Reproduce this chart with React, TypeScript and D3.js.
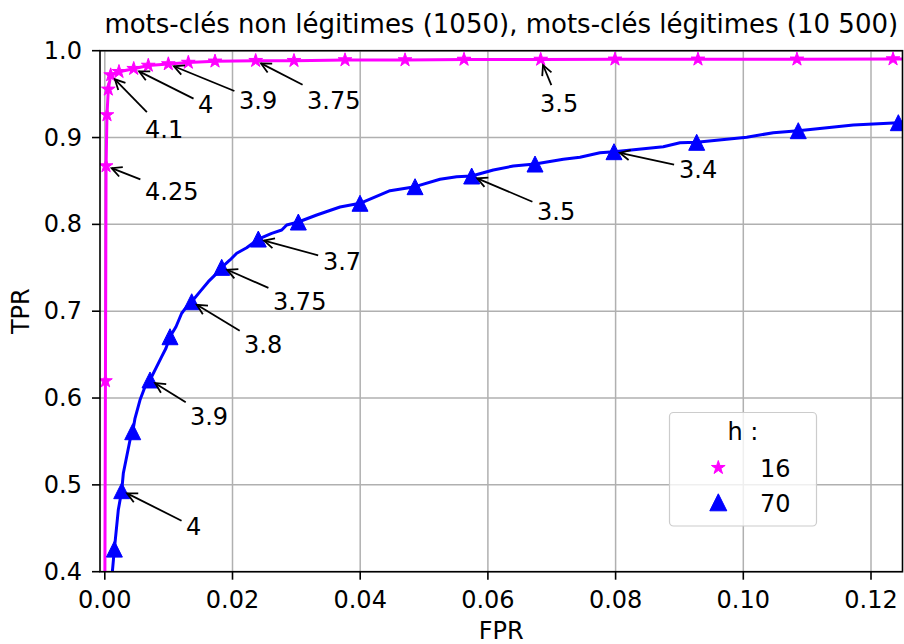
import React from 'react';
import * as d3 from 'd3';

const W = 904;
const H = 644;

const chartTitle = 'mots-clés non légitimes (1050), mots-clés légitimes (10 500)';
const xLabel = 'FPR';
const yLabel = 'TPR';
const legendTitle = 'h :';
const seriesNames = ['16', '70'];
const seriesColors = ['#ff00ff', '#0000ff'];

const xTicks = [0, 0.02, 0.04, 0.06, 0.08, 0.1, 0.12];
const xTickLabels = ['0.00', '0.02', '0.04', '0.06', '0.08', '0.10', '0.12'];
const yTicks = [0.4, 0.5, 0.6, 0.7, 0.8, 0.9, 1.0];
const yTickLabels = ['0.4', '0.5', '0.6', '0.7', '0.8', '0.9', '1.0'];

// h = 16 (magenta, stars)
const h16MarkFPR = [0.0001, 0.0002, 0.00034, 0.00055, 0.00092, 0.00222, 0.00453, 0.00681, 0.00995, 0.01308, 0.01726, 0.02363, 0.02963, 0.03762, 0.04702, 0.05626, 0.06827, 0.0799, 0.0929, 0.1084, 0.12345];
const h16MarkTPR = [0.6196, 0.8672, 0.926, 0.9555, 0.972, 0.9758, 0.9793, 0.983, 0.9847, 0.9864, 0.9878, 0.9885, 0.9885, 0.9893, 0.9893, 0.9899, 0.9899, 0.9901, 0.9901, 0.9901, 0.9904];
const h16LineFPR = [0.0, 0.0001, 0.0002, 0.00034, 0.00055, 0.00092, 0.00222, 0.00453, 0.00681, 0.00995, 0.01308, 0.01726, 0.02363, 0.02963, 0.03762, 0.04702, 0.05626, 0.06827, 0.0799, 0.0929, 0.1084, 0.12345, 0.1262];
const h16LineTPR = [0.35, 0.6196, 0.8672, 0.926, 0.9555, 0.972, 0.9758, 0.9793, 0.983, 0.9847, 0.9864, 0.9878, 0.9885, 0.9885, 0.9893, 0.9893, 0.9899, 0.9899, 0.9901, 0.9901, 0.9901, 0.9904, 0.9905];

// h = 70 (blue, triangles)
const h70MarkFPR = [0.0015, 0.00265, 0.00437, 0.00708, 0.01021, 0.01361, 0.01831, 0.02404, 0.03031, 0.03997, 0.04859, 0.05746, 0.06738, 0.07975, 0.0927, 0.10861, 0.12428];
const h70MarkTPR = [0.426, 0.4933, 0.5612, 0.6208, 0.6706, 0.7109, 0.7505, 0.7831, 0.8027, 0.8243, 0.8434, 0.8557, 0.8695, 0.8837, 0.8945, 0.9079, 0.9171];
const h70LineFPR = [0.001, 0.0015, 0.00211, 0.00265, 0.0029, 0.00332, 0.00395, 0.00437, 0.00473, 0.00551, 0.0063, 0.00708, 0.00813, 0.00891, 0.00958, 0.01021, 0.01115, 0.01204, 0.01283, 0.01361, 0.01491, 0.01621, 0.01753, 0.01831, 0.01961, 0.02066, 0.02222, 0.02404, 0.02614, 0.02771, 0.02849, 0.03031, 0.03319, 0.03684, 0.03997, 0.04467, 0.04859, 0.0525, 0.05511, 0.05746, 0.06085, 0.06398, 0.06738, 0.07181, 0.07442, 0.07755, 0.07975, 0.08747, 0.09008, 0.0927, 0.10053, 0.1047, 0.10861, 0.11723, 0.12036, 0.12428, 0.1261];
const h70LineTPR = [0.385, 0.426, 0.471, 0.4933, 0.5133, 0.5286, 0.5517, 0.5612, 0.5766, 0.5977, 0.613, 0.6208, 0.6361, 0.6476, 0.6573, 0.6706, 0.6821, 0.6976, 0.7052, 0.7109, 0.7225, 0.734, 0.7436, 0.7505, 0.759, 0.7667, 0.7731, 0.7831, 0.7897, 0.7935, 0.7993, 0.8027, 0.8108, 0.82, 0.8243, 0.8388, 0.8434, 0.8519, 0.8549, 0.8557, 0.8626, 0.8672, 0.8695, 0.8749, 0.8772, 0.8825, 0.8837, 0.8894, 0.894, 0.8945, 0.9003, 0.9056, 0.9079, 0.9144, 0.9156, 0.9171, 0.919];

// annotations (threshold labels), text anchored at (FPR, TPR) left/baseline
const h16AnnLabels = ['4.25', '4.1', '4', '3.9', '3.75', '3.5'];
const h16AnnIndex = [1, 4, 6, 8, 11, 16];
const h16AnnTextFPR = [0.0063, 0.0063, 0.0146, 0.02102, 0.03167, 0.06816];
const h16AnnTextTPR = [0.8281, 0.8995, 0.9283, 0.9329, 0.9329, 0.9294];

const h70AnnLabels = ['4', '3.9', '3.8', '3.75', '3.7', '3.5', '3.4'];
const h70AnnIndex = [1, 3, 5, 6, 7, 11, 13];
const h70AnnTextFPR = [0.01272, 0.01334, 0.0218, 0.02634, 0.03417, 0.06769, 0.08993];
const h70AnnTextTPR = [0.4422, 0.5689, 0.6518, 0.7014, 0.7474, 0.805, 0.8534];

const FONT = '"DejaVu Sans", sans-serif';
const FS = 24;
const TITLE_FS = 26;

let _ctx: CanvasRenderingContext2D | null = null;
function textWidth(s: string, fs: number) {
  if (!_ctx) _ctx = document.createElement('canvas').getContext('2d');
  if (!_ctx) return s.length * fs * 0.6;
  _ctx.font = `${fs}px "DejaVu Sans"`;
  return _ctx.measureText(s).width;
}

function starPath(cx: number, cy: number, R: number) {
  const r = R * 0.381966;
  const pts: string[] = [];
  for (let i = 0; i < 10; i++) {
    const a = -Math.PI / 2 + (i * Math.PI) / 5;
    const rr = i % 2 === 0 ? R : r;
    pts.push(`${cx + rr * Math.cos(a)},${cy + rr * Math.sin(a)}`);
  }
  return 'M' + pts.join('L') + 'Z';
}

function triPath(cx: number, cy: number, s: number) {
  return `M${cx},${cy - s}L${cx - s},${cy + s}L${cx + s},${cy + s}Z`;
}

function arrowGeom(tx: number, ty: number, label: string, hx: number, hy: number) {
  const w = textWidth(label, FS);
  const x0 = tx, x1 = tx + w, y0 = ty - 0.93 * FS, y1 = ty + 0.24 * FS;
  const cx = (x0 + x1) / 2, cy = (y0 + y1) / 2;
  const dx = hx - cx, dy = hy - cy;
  let t = Infinity;
  if (dx < 0) t = Math.min(t, (x0 - cx) / dx);
  if (dx > 0) t = Math.min(t, (x1 - cx) / dx);
  if (dy < 0) t = Math.min(t, (y0 - cy) / dy);
  if (dy > 0) t = Math.min(t, (y1 - cy) / dy);
  const len = Math.hypot(dx, dy);
  const ux = dx / len, uy = dy / len;
  const shrinkA = 5, shrinkB = 6;
  const sx = cx + dx * t + ux * shrinkA, sy = cy + dy * t + uy * shrinkA;
  const ex = hx - ux * shrinkB, ey = hy - uy * shrinkB;
  const L = 10, hw = 5;
  const bx = ex - ux * L, by = ey - uy * L;
  const nx = -uy, ny = ux;
  const line = `M${sx},${sy}L${ex},${ey}`;
  const head = `M${bx + nx * hw},${by + ny * hw}L${ex},${ey}L${bx - nx * hw},${by - ny * hw}`;
  return { line, head };
}

export default function App() {
  const m = { l: 100, r: 902.5, t: 50.7, b: 571.7 };
  const x = d3.scaleLinear().domain([-0.000752, 0.124933]).range([m.l, m.r]);
  const y = d3.scaleLinear().domain([0.4, 1.0]).range([m.b, m.t]);

  const lineGen = d3.line<[number, number]>().x((d) => x(d[0])).y((d) => y(d[1]));
  const h16Line = lineGen(h16LineFPR.map((v, i) => [v, h16LineTPR[i]] as [number, number])) || '';
  const h70Line = lineGen(h70LineFPR.map((v, i) => [v, h70LineTPR[i]] as [number, number])) || '';

  const annots: { label: string; tx: number; ty: number; hx: number; hy: number }[] = [];
  h16AnnLabels.forEach((lab, i) => {
    const k = h16AnnIndex[i];
    annots.push({ label: lab, tx: x(h16AnnTextFPR[i]), ty: y(h16AnnTextTPR[i]), hx: x(h16MarkFPR[k]), hy: y(h16MarkTPR[k]) });
  });
  h70AnnLabels.forEach((lab, i) => {
    const k = h70AnnIndex[i];
    annots.push({ label: lab, tx: x(h70AnnTextFPR[i]), ty: y(h70AnnTextTPR[i]), hx: x(h70MarkFPR[k]), hy: y(h70MarkTPR[k]) });
  });

  const grid = '#b0b0b0';
  const cxMid = (m.l + m.r) / 2;
  const cyMid = (m.t + m.b) / 2;

  // legend box
  const lg = { x: 669.5, y: 412.5, w: 147, h: 113.5 };

  return (
    <svg width={W} height={H} viewBox={`0 0 ${W} ${H}`} style={{ position: 'absolute', left: 0, top: 0, background: '#fff' }} fontFamily={FONT}>
      <defs>
        <clipPath id="plotclip">
          <rect x={m.l} y={m.t} width={m.r - m.l} height={m.b - m.t} />
        </clipPath>
      </defs>
      <rect x={0} y={0} width={W} height={H} fill="#fff" />
      {/* grid */}
      <g stroke={grid} strokeWidth={1.5}>
        {xTicks.map((t) => (
          <line key={'gx' + t} x1={x(t)} x2={x(t)} y1={m.t} y2={m.b} />
        ))}
        {yTicks.map((t) => (
          <line key={'gy' + t} x1={m.l} x2={m.r} y1={y(t)} y2={y(t)} />
        ))}
      </g>
      {/* series */}
      <g clipPath="url(#plotclip)">
        <path d={h16Line} fill="none" stroke={seriesColors[0]} strokeWidth={3} strokeLinejoin="round" />
        <path d={h70Line} fill="none" stroke={seriesColors[1]} strokeWidth={3} strokeLinejoin="round" />
        {h16MarkFPR.map((v, i) => (
          <path key={'s' + i} d={starPath(x(v), y(h16MarkTPR[i]), 7.2)} fill={seriesColors[0]} stroke={seriesColors[0]} strokeWidth={1} strokeLinejoin="round" />
        ))}
        {h70MarkFPR.map((v, i) => (
          <path key={'t' + i} d={triPath(x(v), y(h70MarkTPR[i]), 8)} fill={seriesColors[1]} stroke={seriesColors[1]} strokeWidth={1} />
        ))}
      </g>
      {/* spines */}
      <rect x={m.l} y={m.t} width={m.r - m.l} height={m.b - m.t} fill="none" stroke="#000" strokeWidth={1.6} />
      {/* ticks */}
      <g stroke="#000" strokeWidth={1.6}>
        {xTicks.map((t) => (
          <line key={'tx' + t} x1={x(t)} x2={x(t)} y1={m.b} y2={m.b + 8} />
        ))}
        {yTicks.map((t) => (
          <line key={'ty' + t} x1={m.l - 8} x2={m.l} y1={y(t)} y2={y(t)} />
        ))}
      </g>
      <g fontSize={FS} fill="#000">
        {xTicks.map((t, i) => (
          <text key={'lx' + t} x={x(t)} y={608} textAnchor="middle">
            {xTickLabels[i]}
          </text>
        ))}
        {yTicks.map((t, i) => (
          <text key={'ly' + t} x={82} y={y(t)} textAnchor="end" dominantBaseline="central">
            {yTickLabels[i]}
          </text>
        ))}
        <text x={cxMid} y={639} textAnchor="middle">
          {xLabel}
        </text>
        <text x={21} y={cyMid} textAnchor="middle" dominantBaseline="central" transform={`rotate(-90, 21, ${cyMid})`}>
          {yLabel}
        </text>
      </g>
      <text x={cxMid} y={33} textAnchor="middle" fontSize={TITLE_FS} fill="#000">
        {chartTitle}
      </text>
      {/* annotations */}
      <g>
        {annots.map((a, i) => {
          const g = arrowGeom(a.tx, a.ty, a.label, a.hx, a.hy);
          return (
            <g key={'a' + i}>
              <path d={g.line} stroke="#000" strokeWidth={1.8} fill="none" />
              <path d={g.head} stroke="#000" strokeWidth={1.8} fill="none" strokeLinejoin="miter" />
              <text x={a.tx} y={a.ty} fontSize={FS} fill="#000">
                {a.label}
              </text>
            </g>
          );
        })}
      </g>
      {/* legend */}
      <g>
        <rect x={lg.x} y={lg.y} width={lg.w} height={lg.h} rx={4} fill="#fff" fillOpacity={0.8} stroke="#cccccc" strokeWidth={1.2} />
        <text x={743} y={439.5} textAnchor="middle" fontSize={FS}>
          {legendTitle}
        </text>
        <path d={starPath(718.3, 467.7, 7.2)} fill={seriesColors[0]} stroke={seriesColors[0]} strokeWidth={1} />
        <text x={760} y={476.5} fontSize={FS}>
          {seriesNames[0]}
        </text>
        <path d={triPath(718.3, 502.3, 8.5)} fill={seriesColors[1]} stroke={seriesColors[1]} strokeWidth={1} />
        <text x={760} y={511.5} fontSize={FS}>
          {seriesNames[1]}
        </text>
      </g>
    </svg>
  );
}
